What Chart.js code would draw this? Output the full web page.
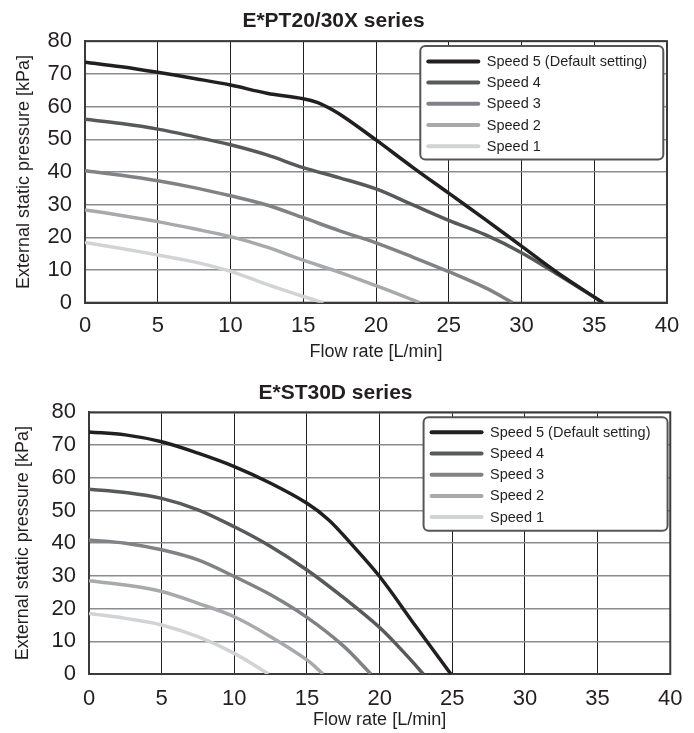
<!DOCTYPE html>
<html>
<head>
<meta charset="utf-8">
<script src="https://cdn.jsdelivr.net/npm/chart.js@4/dist/chart.umd.min.js"></script>
<style>
  html, body { margin: 0; padding: 0; background: #ffffff; }
  canvas { display: block; }
</style>
</head>
<body>
<canvas id="c1" width="694" height="367"></canvas>
<canvas id="c2" width="694" height="366"></canvas>
<script>
// ---------- Data ----------
const seriesLabels = ['Speed 5 (Default setting)', 'Speed 4', 'Speed 3', 'Speed 2', 'Speed 1'];
const xTickValues = [0, 5, 10, 15, 20, 25, 30, 35, 40];
const yTickValues = [0, 10, 20, 30, 40, 50, 60, 70, 80];
const chart1Title = 'E*PT20/30X series';
const chart2Title = 'E*ST30D series';
const xAxisTitle = 'Flow rate [L/min]';
const yAxisTitle = 'External static pressure [kPa]';

// E*PT20/30X series
const pt_s5_x = [0, 2.5, 5, 7.5, 10, 12.5, 15, 16, 17, 18, 20, 22.5, 25, 27.5, 30, 32.5, 35.6];
const pt_s5_y = [73.6, 72.2, 70.5, 68.6, 66.6, 64.1, 62.4, 61.2, 59, 56.2, 49.8, 41.5, 33.5, 25.5, 17.3, 9.1, 0];
const pt_s4_x = [0, 2.5, 5, 7.5, 10, 12.5, 15, 17.5, 20, 22.5, 25, 27.5, 30, 32.5, 35.6];
const pt_s4_y = [56.1, 54.8, 53.1, 50.8, 48.3, 45.2, 41.3, 38.2, 34.8, 30, 25.2, 20.8, 15.3, 8.6, 0];
const pt_s3_x = [0, 2.5, 5, 7.5, 10, 12.5, 15, 17.5, 20, 22.5, 25, 27.5, 29.4];
const pt_s3_y = [40.4, 39, 37.3, 35.2, 32.7, 29.9, 26, 22, 18.3, 14, 9.5, 4.6, 0];
const pt_s2_x = [0, 2.5, 5, 7.5, 10, 12.5, 15, 17.5, 20, 22, 23];
const pt_s2_y = [28.4, 26.7, 24.8, 22.6, 20.2, 17, 13, 9.3, 5.2, 1.8, 0];
const pt_s1_x = [0, 2.5, 5, 7.5, 10, 12.5, 15, 16.4];
const pt_s1_y = [18.4, 16.6, 14.6, 12.5, 9.6, 5.6, 1.9, 0];

// E*ST30D series
const st_s5_x = [0, 2.5, 5, 7.5, 10, 12.5, 15, 16.5, 18, 20, 22.5, 24.9];
const st_s5_y = [74, 73.1, 71, 67.5, 63.4, 58.3, 52.2, 47.1, 40, 29.8, 14.5, 0];
const st_s4_x = [0, 2.5, 5, 7.5, 10, 12.5, 15, 17.5, 20, 22, 23];
const st_s4_y = [56.5, 55.5, 53.7, 50.2, 45, 39, 31.8, 23.4, 14.2, 5, 0];
const st_s3_x = [0, 2.5, 5, 7.5, 10, 12.5, 15, 17.5, 19.4];
const st_s3_y = [41, 40, 38, 34.9, 29.8, 24.2, 17.3, 8.6, 0];
const st_s2_x = [0, 2.5, 5, 7.5, 10, 12.5, 15, 16.1];
const st_s2_y = [28.5, 27.2, 25.2, 21.6, 17.5, 11.4, 4.3, 0];
const st_s1_x = [0, 2.5, 5, 7.5, 10, 12.35];
const st_s1_y = [18.5, 17, 15, 11.4, 6.3, 0];

// ---------- Styles ----------
const lineColors = ['#231f20', '#58595b', '#808285', '#a7a9ac', '#d1d3d4'];
const FONT = "'Liberation Sans', Arial, Helvetica, sans-serif";

function toPoints(xs, ys) { return xs.map((x, i) => ({ x: x, y: ys[i] })); }

const frameAndLegend = {
  id: 'frameAndLegend',
  beforeDatasetsDraw(chart) {
    const { ctx, chartArea: a } = chart;
    ctx.save();
    ctx.strokeStyle = '#3a3a3a';
    ctx.lineWidth = 2;
    ctx.strokeRect(a.left, a.top, a.right - a.left, a.bottom - a.top);
    ctx.restore();
  },
  afterDatasetsDraw(chart, args, opts) {
    const { ctx, chartArea: a } = chart;
    const w = opts.width, h = opts.height;
    const x = a.right - opts.insetRight - w;
    const y = a.top + opts.insetTop;
    ctx.save();
    ctx.beginPath();
    ctx.roundRect(x, y, w, h, 5);
    ctx.fillStyle = '#ffffff';
    ctx.fill();
    ctx.lineWidth = 2;
    ctx.strokeStyle = '#555555';
    ctx.stroke();
    ctx.font = '14.5px ' + FONT;
    ctx.textBaseline = 'middle';
    ctx.textAlign = 'left';
    chart.data.datasets.forEach((ds, i) => {
      const ry = y + opts.firstRow + i * opts.rowGap;
      ctx.beginPath();
      ctx.strokeStyle = ds.borderColor;
      ctx.lineWidth = 4;
      ctx.lineCap = 'round';
      ctx.moveTo(x + 8, ry);
      ctx.lineTo(x + 58, ry);
      ctx.stroke();
      ctx.fillStyle = '#231f20';
      ctx.fillText(ds.label, x + 66.5, ry + 0.5);
    });
    ctx.restore();
  }
};

function makeChart(id, title, series, L) {
  const datasets = series.map((s, i) => ({
    label: seriesLabels[i],
    data: toPoints(s[0], s[1]),
    borderColor: lineColors[i],
    backgroundColor: lineColors[i],
    borderWidth: 3.5,
    pointRadius: 0,
    tension: 0.35,
    borderCapStyle: 'butt',
    borderJoinStyle: 'round',
    fill: false
  }));
  return new Chart(document.getElementById(id), {
    type: 'line',
    data: { datasets },
    plugins: [frameAndLegend],
    options: {
      responsive: false,
      animation: false,
      events: [],
      layout: { padding: { left: 0, right: L.padRight, top: 0, bottom: 0 } },
      plugins: {
        legend: { display: false },
        tooltip: { enabled: false },
        title: {
          display: true,
          text: title,
          color: '#231f20',
          font: { family: FONT, size: 21, weight: 'bold' },
          padding: { top: L.titleTop, bottom: L.titleBottom }
        },
        frameAndLegend: L.legend
      },
      scales: {
        x: {
          type: 'linear',
          min: 0, max: 40,
          afterBuildTicks(scale) { scale.ticks = xTickValues.map(v => ({ value: v })); },
          afterFit(scale) { scale.height = L.xHeight; },
          ticks: {
            color: '#231f20',
            padding: L.xTickPad,
            maxRotation: 0,
            font: { family: FONT, size: 22 }
          },
          grid: { color: '#231f20', lineWidth: 1, drawTicks: false },
          border: { display: true, color: '#3a3a3a', width: 2 },
          title: {
            display: true,
            text: xAxisTitle,
            color: '#231f20',
            font: { family: FONT, size: 18 },
            padding: { top: 0, bottom: L.xTitleBottom }
          }
        },
        y: {
          type: 'linear',
          min: 0, max: 80,
          afterBuildTicks(scale) { scale.ticks = yTickValues.map(v => ({ value: v })); },
          afterFit(scale) { scale.width = L.yWidth; },
          ticks: {
            color: '#231f20',
            padding: 13,
            font: { family: FONT, size: 22 }
          },
          grid: { color: '#8a8c8f', lineWidth: 1.5, drawTicks: false },
          border: { display: true, color: '#3a3a3a', width: 2 },
          title: {
            display: true,
            text: yAxisTitle,
            color: '#231f20',
            font: { family: FONT, size: 18 },
            padding: { top: L.yTitlePad, bottom: 0 }
          }
        }
      }
    }
  });
}

makeChart('c1', chart1Title, [
  [pt_s5_x, pt_s5_y], [pt_s4_x, pt_s4_y], [pt_s3_x, pt_s3_y], [pt_s2_x, pt_s2_y], [pt_s1_x, pt_s1_y]
], {
  padRight: 27, titleTop: 8.5, titleBottom: 7.5, yWidth: 85, xHeight: 64.3,
  xTickPad: 10.5, xTitleBottom: 4.5, yTitlePad: 13,
  legend: { width: 243, height: 113.5, insetRight: 3.7, insetTop: 4.7, firstRow: 15.5, rowGap: 21.2 }
});

makeChart('c2', chart2Title, [
  [st_s5_x, st_s5_y], [st_s4_x, st_s4_y], [st_s3_x, st_s3_y], [st_s2_x, st_s2_y], [st_s1_x, st_s1_y]
], {
  padRight: 23, titleTop: 14, titleBottom: 6.1, yWidth: 89, xHeight: 59,
  xTickPad: 11.5, xTitleBottom: 2.5, yTitlePad: 12.7,
  legend: { width: 244, height: 113.5, insetRight: 2.7, insetTop: 5, firstRow: 15, rowGap: 21.2 }
});
</script>
</body>
</html>
